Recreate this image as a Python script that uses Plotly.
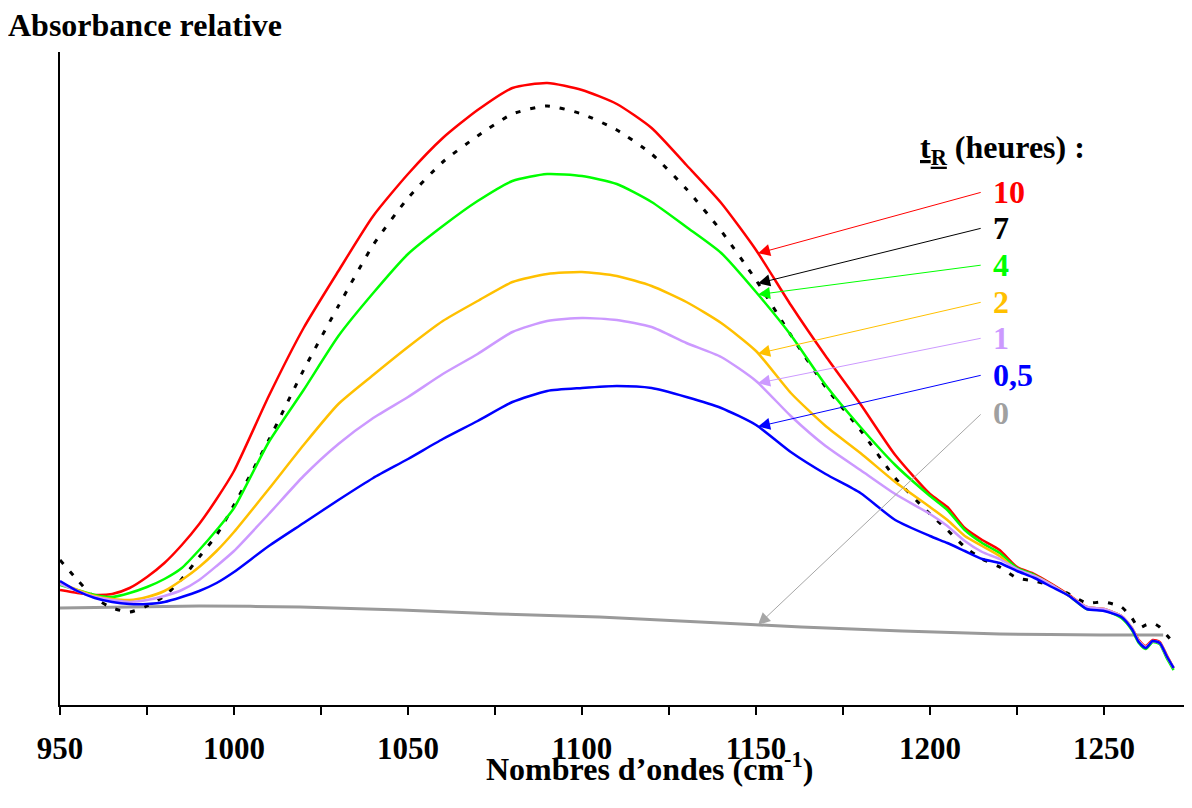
import numpy as np
import plotly.graph_objects as go

# ---------------- data (relative absorbance, arbitrary units) ----------------
wavenumber = [950, 955, 960, 965, 970, 975, 980, 985, 990, 995, 1000, 1010, 1020, 1030,
              1040, 1050, 1060, 1070, 1080, 1090, 1100, 1110, 1120, 1130, 1140, 1150,
              1160, 1170, 1180, 1190, 1200, 1205, 1210, 1215, 1220, 1225, 1230, 1235,
              1240, 1245, 1250, 1255, 1258, 1260, 1262, 1264, 1266, 1268, 1270]

abs_10h = [115, 112, 110, 111, 117, 128, 142, 160, 181, 206, 234, 309, 377, 434, 489, 531,
           567, 595, 617, 622, 615, 601, 577, 540, 502, 455, 400, 349, 301, 250, 211, 198,
           177, 165, 155, 138, 131, 121, 110, 98, 96, 89, 77, 65, 59, 65, 63, 50, 37]

abs_7h = [145, 125, 107, 97, 93, 99, 109, 126, 148, 170, 200, 265, 335, 399, 460, 507,
          543, 569, 591, 599, 591, 575, 551, 516, 474, 425, 370, 318, 275, 227, 191, 175,
          158, 146, 138, 127, 124, 119, 111, 102, 103, 98, 87, 77, 80, 82, 78, 70, 62]

abs_4h = [120, 115, 110, 108, 112, 118, 126, 137, 155, 175, 197, 263, 315, 369, 412, 451,
          479, 504, 524, 531, 529, 521, 503, 478, 452, 413, 370, 320, 278, 240, 209, 195,
          175, 162, 152, 137, 130, 120, 109, 96, 95, 87, 75, 62, 56, 63, 61, 47, 35]

abs_2h = [122, 115, 109, 106, 105, 108, 114, 125, 138, 154, 173, 216, 260, 301, 330, 358,
          384, 404, 423, 431, 433, 429, 419, 403, 382, 354, 312, 279, 252, 223, 198, 185,
          169, 159, 149, 135, 129, 120, 109, 98, 96, 89, 77, 64, 58, 64, 62, 49, 37]

abs_1h = [121, 114, 108, 105, 103, 105, 109, 115, 125, 139, 154, 191, 229, 261, 287, 308,
          331, 351, 373, 384, 387, 385, 378, 362, 348, 324, 289, 259, 235, 211, 191, 179,
          164, 153, 146, 136, 129, 120, 109, 98, 96, 89, 77, 64, 58, 64, 62, 49, 37]

abs_05h = [124, 114, 107, 103, 101, 101, 103, 108, 114, 122, 133, 159, 182, 205, 227, 246,
           266, 284, 303, 314, 317, 319, 317, 308, 297, 280, 253, 231, 212, 185, 169, 162,
           154, 146, 142, 134, 127, 118, 109, 96, 94, 88, 76, 63, 57, 64, 62, 49, 37]

wavenumber_0h = [950, 970, 990, 1019, 1048, 1076, 1105, 1134, 1163, 1192, 1220, 1249, 1267]
abs_0h = [97, 98, 99, 98, 95, 91, 88, 83, 78, 74, 71, 70, 70]

series_labels = ["10", "7", "4", "2", "1", "0,5", "0"]
tick_values = [950, 1000, 1050, 1100, 1150, 1200, 1250]
tick_labels = ["950", "1000", "1050", "1100", "1150", "1200", "1250"]

# ---------------- styles ----------------
FONT = "Times New Roman, Liberation Serif, serif"
colors = ["#FF0000", "#000000", "#00FF00", "#FFC000", "#CC99FF", "#0000FF", "#999999"]

series = [
    (wavenumber, abs_10h, dict(color=colors[0], width=2.5)),
    (wavenumber, abs_7h, dict(color=colors[1], width=3, dash="5px,10px")),
    (wavenumber, abs_4h, dict(color=colors[2], width=2.5)),
    (wavenumber, abs_2h, dict(color=colors[3], width=2.5)),
    (wavenumber, abs_1h, dict(color=colors[4], width=2.5)),
    (wavenumber, abs_05h, dict(color=colors[5], width=2.5)),
    (wavenumber_0h, abs_0h, dict(color="#9A9A9A", width=3)),
]

fig = go.Figure()
order = [6, 0, 1, 2, 3, 4, 5]
for i in order:
    x, y, line = series[i]
    fig.add_trace(go.Scatter(x=x, y=y, mode="lines",
                             line=dict(shape="spline", smoothing=0.6, **line),
                             name=series_labels[i], showlegend=False, hoverinfo="skip"))

annotations = []
arrow_x = 1150.6
label_x = 1217.5
tail_y = [513, 477, 440, 403, 367, 330, 292]
arrow_colors = ["#FF0000", "#000000", "#00FF00", "#FFC000", "#CC99FF", "#0000FF", "#A6A6A6"]
label_colors = ["#FF0000", "#000000", "#00FF00", "#FFC000", "#CC99FF", "#0000FF", "#A0A0A0"]
for i, (x, y, line) in enumerate(series):
    head_y = float(np.interp(arrow_x, x, y))
    annotations.append(dict(
        x=arrow_x, y=head_y, xref="x", yref="y",
        ax=label_x - 2.5, ay=tail_y[i], axref="x", ayref="y",
        text="", showarrow=True, arrowhead=2, arrowsize=2.4, arrowwidth=1,
        arrowcolor=arrow_colors[i], standoff=0, startstandoff=0))
    annotations.append(dict(
        x=label_x, y=tail_y[i], xref="x", yref="y", xanchor="left", yanchor="middle",
        text="<b>%s</b>" % series_labels[i], showarrow=False,
        font=dict(family=FONT, size=32, color=label_colors[i])))

annotations.append(dict(
    x=1196.5, y=556, xref="x", yref="y", xanchor="left", yanchor="middle",
    text="<b><u>t<sub>R</sub></u> (heures) :</b>", showarrow=False,
    font=dict(family=FONT, size=32, color="#000000")))

annotations.append(dict(
    x=0.521, y=-0.095, xref="paper", yref="paper", xanchor="center", yanchor="middle",
    text="<b>Nombres d’ondes (cm<sup>-1</sup>)</b>", showarrow=False,
    font=dict(family=FONT, size=32, color="#000000")))

fig.update_layout(
    width=1184, height=800,
    margin=dict(l=52, r=1, t=44, b=103),
    paper_bgcolor="white", plot_bgcolor="white",
    title=dict(text="<b>Absorbance relative</b>", x=0.0, xanchor="left",
               y=0.979, yanchor="middle", xref="container", yref="container",
               font=dict(family=FONT, size=32, color="#000000")),
    annotations=annotations,
    showlegend=False,
)

fig.update_xaxes(
    range=[950, 1275], showgrid=False, zeroline=False,
    showline=True, linecolor="#000000", linewidth=2,
    ticks="outside", ticklen=8, tickwidth=2, tickcolor="#000000",
    tickvals=tick_values, ticktext=["<b>%s</b>" % t for t in tick_labels],
    tickfont=dict(family=FONT, size=31, color="#000000"),
    ticklabelstandoff=7,
    minor=dict(dtick=25, tick0=950, ticks="outside", ticklen=8, tickwidth=2, tickcolor="#000000"),
)
fig.update_yaxes(
    range=[0, 653], showgrid=False, zeroline=False,
    showline=True, linecolor="#000000", linewidth=2,
    ticks="", showticklabels=False,
)

fig.write_html("out.html")
